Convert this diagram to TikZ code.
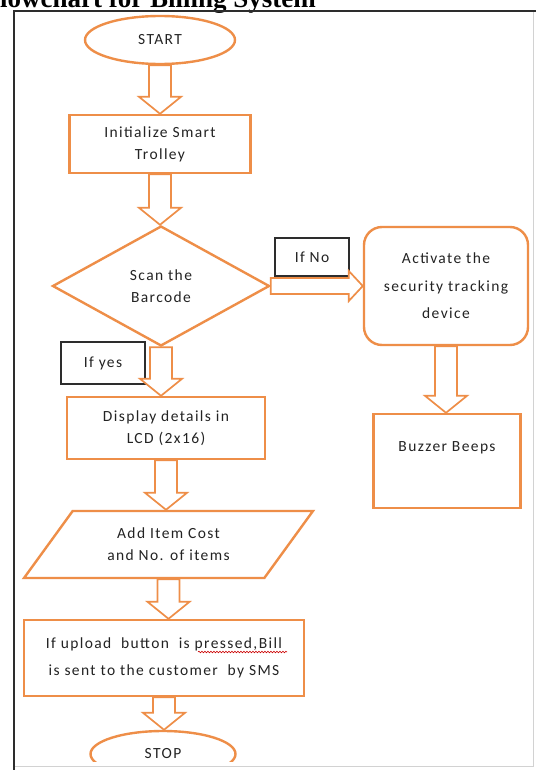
\documentclass[tikz,border=0pt]{standalone}
\usepackage{fontspec}
\setmainfont{Carlito}
\newfontfamily\titlefont{Liberation Serif}
\usetikzlibrary{shapes.geometric,calc,decorations.pathmorphing}
\definecolor{orng}{RGB}{238,142,72}
\definecolor{framec}{RGB}{45,45,45}
\newcommand\flowtxt{\fontsize{15.5}{22}\selectfont\addfontfeatures{LetterSpace=9}\color[RGB]{35,35,35}}
\tikzset{
  obox/.style={draw=orng, line width=2.4pt, fill=white, align=center, font=\flowtxt, inner sep=2pt},
  lbox/.style={draw=framec, line width=1.8pt, fill=white, align=center, font=\flowtxt, inner sep=2pt},
  barrow/.style={draw=orng, line width=1.7pt, fill=white, line join=miter},
}
\newcommand\downblock[2]{%
  \draw[barrow] let \p1=(#1.south), \p2=(#2.north) in
    (\x1-11pt,\y1) -- (\x1-11pt,\y2+17pt) -- (\x1-21pt,\y2+17pt) -- (\x1,\y2)
    -- (\x1+21pt,\y2+17pt) -- (\x1+11pt,\y2+17pt) -- (\x1+11pt,\y1) -- cycle;}
\begin{document}
\begin{tikzpicture}[x=1pt,y=-1pt]
\useasboundingbox (0,0) rectangle (536,770);
\clip (0,0) rectangle (536,770);
\fill[white] (0,0) rectangle (536,770);
% title (cut at top and left)
\node[anchor=base west, inner sep=0, font=\titlefont\bfseries\fontsize{27}{27}\selectfont] (title) at (-16.5,8) {Flowchart for Billing System};
% frame
\draw[gray!35, line width=1pt] (533,11) -- (533,766) -- (14,766);
\draw[framec, line width=2pt] (14,770) -- (14,11) -- (536,11);
\begin{scope}
\clip (15.5,12.5) rectangle (532,761);
\node[obox, ellipse, minimum width=150pt, minimum height=48pt] (start) at (160,40) {START};
\node[obox, minimum width=181pt, minimum height=58pt] (init) at (160,144) {Initialize Smart\\Trolley};
\node[obox, diamond, minimum width=217pt, minimum height=120pt] (scan) at (161,286) {Scan the\\Barcode};
\node[obox, rounded corners=18pt, minimum width=164pt, minimum height=118pt, font=\flowtxt\linespread{1.25}\selectfont] (act) at (446,286) {Activate the\\security tracking\\device};
\node[obox, minimum width=147pt, minimum height=94pt] (buzz) at (447,461) {Buzzer Beeps\\\strut};
\node[obox, minimum width=198pt, minimum height=62pt] (disp) at (166,428) {Display details in\\LCD (2x16)};
\node[obox, trapezium, trapezium left angle=49, trapezium right angle=131, trapezium stretches=true, minimum width=289pt, minimum height=67pt] (add) at (168.5,544.5) {Add Item Cost\\and No. of items};
\node[obox, minimum width=280pt, minimum height=76pt, font=\flowtxt\linespread{1.2}\selectfont] (upl) at (164,658) {If upload\ \ button\ \ is pressed,Bill\\is sent to the customer\ \ by SMS};
\node[obox, ellipse, minimum width=145pt, minimum height=46pt] (stop) at (163,754) {\raisebox{-5pt}{STOP}};
% labels
\node[lbox, minimum width=74pt, minimum height=38pt] (ifno) at (312,257) {If No};
\node[lbox, minimum width=84pt, minimum height=42pt] (ifyes) at (103,363) {If yes};
% block arrows
\downblock{start}{init}
\downblock{init}{scan}
\downblock{scan}{disp}
\downblock{disp}{add}
\downblock{add}{upl}
\downblock{upl}{stop}
\downblock{act}{buzz}
\draw[barrow] let \p1=(scan.east), \p2=(act.west) in
  (\x1,\y1+8pt) -- (\x2-14pt,\y1+8pt) -- (\x2-14pt,\y1+15pt) -- (\x2,\y1)
  -- (\x2-14pt,\y1-15pt) -- (\x2-14pt,\y1-8pt) -- (\x1,\y1-8pt) -- cycle;
% spell-check squiggle
\draw[red!80!black, line width=0.6pt, decorate, decoration={snake, amplitude=0.8pt, segment length=3pt}] (198,652) -- (287,652);
\end{scope}
\end{tikzpicture}
\end{document}
